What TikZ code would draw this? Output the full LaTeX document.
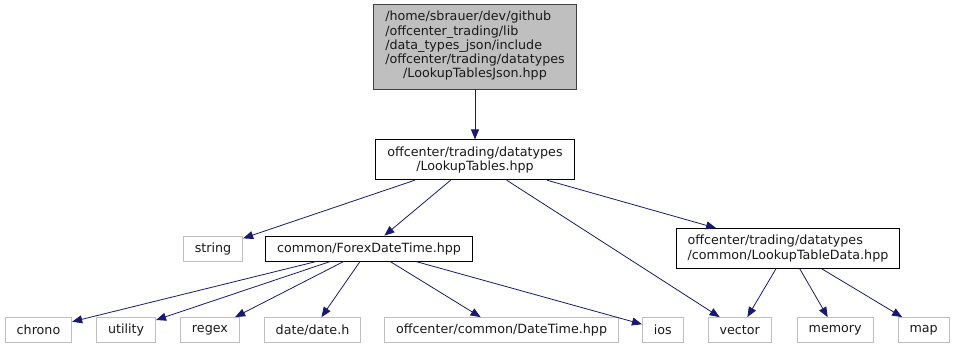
\documentclass[tikz,border=0pt]{standalone}
\usepackage{fontspec}
\setmainfont{DejaVu Sans}
\usepackage{tikz}
\usetikzlibrary{positioning, arrows.meta}
\definecolor{edgeblue}{HTML}{191970}
\definecolor{sysgray}{HTML}{BFBFBF}
\definecolor{rootfill}{HTML}{BFBFBF}
\tikzset{
  % --- include graph boxes (project header | system header) ---
  incfile/.style={
    draw=black, rectangle, line width=0.8pt, align=center,
    font=\fontsize{12.7}{14.3}\selectfont, text=black!90,
    inner xsep=11.5pt, inner ysep=0pt, minimum height=25pt,
  },
  incroot/.style={incfile, draw=black!75, fill=rootfill, inner xsep=12pt, inner ysep=6.75pt},
  incpair/.style={incfile, minimum height=40pt},
  incsys/.style={incfile, draw=sysgray},
  % --- include relation ---
  includes/.style={-{Triangle[length=10pt, width=8pt]}, draw=edgeblue,
    line width=0.8pt},
}

\begin{document}
\begin{tikzpicture}[x=1pt, y=-1pt]
    \useasboundingbox (0,0) rectangle (955,349);

    % ---- File being documented ----
    \node[incroot] (root) at (475,46.5) {%
      \begin{tabular}{@{}l@{}}
        /home/sbrauer/dev/github\\
        /offcenter\_trading/lib\\
        /data\_types\_json/include\\
        /offcenter/trading/datatypes\\
        \multicolumn{1}{@{}c@{}}{/LookupTablesJson.hpp}
      \end{tabular}};

    % ---- First level ----
    \node[incpair, inner xsep=12pt, below=50pt of root] (lt) {offcenter/trading/datatypes\\/LookupTables.hpp};

    % ---- Second level ----
    \node[incfile] (fdt) at (369,248.5) {common/ForexDateTime.hpp};
    \node[incsys, left=22pt of fdt] (string) {string};
    \node[incpair, align=left] (ltd) at (788,248.5) {offcenter/trading/datatypes\\/common/LookupTableData.hpp};

    % ---- Leaf headers: one row ----
    \node[incsys] (chrono) at (38.5,330) {chrono};
    \node[incsys, right=24pt of chrono] (utility) {utility};
    \node[incsys, right=24pt of utility] (regex) {regex};
    \node[incsys, right=24pt of regex] (datelib) {date/date.h};
    \node[incsys, right=23pt of datelib] (datetime) {offcenter/common/DateTime.hpp};
    \node[incsys, right=23pt of datetime] (ios) {ios};
    \node[incsys, right=24pt of ios] (vector) {vector};
    \node[incsys, right=25pt of vector] (memory) {memory};
    \node[incsys, right=24pt of memory] (map) {map};

    % ---- Includes ----
    \draw[includes] (root) -- (lt);
    \foreach \t in {string, fdt, vector, ltd}{ \draw[includes] (lt) -- (\t); }
    \foreach \t in {chrono, utility, regex, datelib, datetime, ios}{ \draw[includes] (fdt) -- (\t); }
    \foreach \t in {vector, memory, map}{ \draw[includes] (ltd) -- (\t); }
\end{tikzpicture}
\end{document}
